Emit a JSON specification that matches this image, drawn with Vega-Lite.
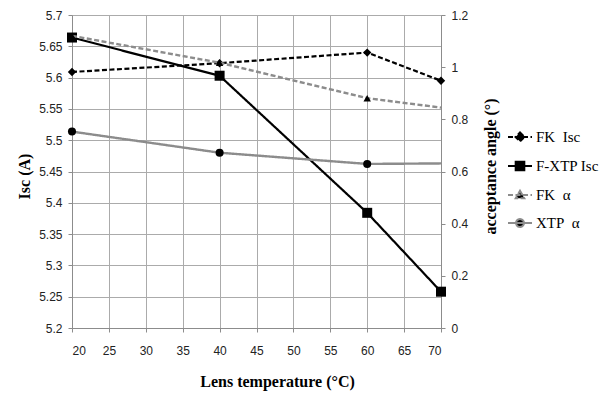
{
  "$schema": "https://vega.github.io/schema/vega-lite/v6.json",
  "autosize": "none",
  "width": 369,
  "height": 313,
  "padding": {"left": 72, "top": 15, "right": 167, "bottom": 70},
  "background": "white",
  "datasets": {
    "isc": [
      {"T": 20, "series": "FK\u00a0\u00a0Isc", "v": 5.609},
      {"T": 40, "series": "FK\u00a0\u00a0Isc", "v": 5.623},
      {"T": 60, "series": "FK\u00a0\u00a0Isc", "v": 5.640},
      {"T": 70, "series": "FK\u00a0\u00a0Isc", "v": 5.595},
      {"T": 20, "series": "F-XTP Isc", "v": 5.664},
      {"T": 40, "series": "F-XTP Isc", "v": 5.603},
      {"T": 60, "series": "F-XTP Isc", "v": 5.384},
      {"T": 70, "series": "F-XTP Isc", "v": 5.258}
    ],
    "angle": [
      {"T": 20, "series": "FK\u00a0\u00a0α", "v": 1.12},
      {"T": 40, "series": "FK\u00a0\u00a0α", "v": 1.017},
      {"T": 60, "series": "FK\u00a0\u00a0α", "v": 0.881},
      {"T": 70, "series": "FK\u00a0\u00a0α", "v": 0.845},
      {"T": 20, "series": "XTP\u00a0\u00a0α", "v": 0.753},
      {"T": 40, "series": "XTP\u00a0\u00a0α", "v": 0.672},
      {"T": 60, "series": "XTP\u00a0\u00a0α", "v": 0.629},
      {"T": 70, "series": "XTP\u00a0\u00a0α", "v": 0.631}
    ]
  },
  "config": {
    "view": {"stroke": null},
    "axis": {
      "labelFont": "Liberation Sans Narrow, Liberation Sans, sans-serif",
      "labelFontSize": 12,
      "labelColor": "#222222",
      "titleFont": "Liberation Serif",
      "titleFontSize": 16,
      "titleFontWeight": "bold",
      "titleColor": "#000000",
      "domainColor": "#8c8c8c",
      "tickColor": "#8c8c8c",
      "gridColor": "#ababab",
      "tickSize": 4,
      "labelPadding": 6
    },
    "legend": {
      "labelFont": "Liberation Serif",
      "labelFontSize": 15,
      "labelColor": "#000000"
    }
  },
  "encoding": {
    "x": {
      "field": "T", "type": "quantitative",
      "scale": {"domain": [20, 70], "nice": false, "zero": false},
      "axis": {
        "values": [20, 25, 30, 35, 40, 45, 50, 55, 60, 65, 70],
        "title": "Lens temperature  (°C)",
        "labelPadding": 13,
        "grid": true,
        "titleX": 205, "titleY": 53, "titleAlign": "center", "titleBaseline": "middle"
      }
    }
  },
  "resolve": {"scale": {"y": "independent"}},
  "layer": [
    {
      "data": {"name": "isc"},
      "encoding": {
        "y": {
          "field": "v", "type": "quantitative",
          "scale": {"domain": [5.2, 5.7], "nice": false, "zero": false},
          "axis": {
            "orient": "left",
            "values": [5.2, 5.25, 5.3, 5.35, 5.4, 5.45, 5.5, 5.55, 5.6, 5.65, 5.7],
            "format": "~g",
            "title": "Isc (A)",
            "grid": true,
            "titleX": -48, "titleY": 161, "titleAlign": "center", "titleBaseline": "middle", "titleAngle": 270
          }
        }
      },
      "layer": [
        {
          "mark": {"type": "line", "strokeWidth": 2.2},
          "encoding": {
            "color": {
              "field": "series", "type": "nominal",
              "scale": {
                "domain": ["FK\u00a0\u00a0Isc", "F-XTP Isc", "FK\u00a0\u00a0α", "XTP\u00a0\u00a0α"],
                "range": ["#000000", "#000000", "#8c8c8c", "#8c8c8c"]
              },
              "legend": {
                "title": null,
                "orient": "none",
                "legendX": 435,
                "legendY": 109,
                "rowPadding": 7,
                "symbolSize": 576,
                "symbolStrokeWidth": 2,
                "labelOffset": 3,
                "encode": {
                  "symbols": {
                    "update": {
                      "shape": {"signal": "['M-1,0H1M0,-0.375L0.375,0L0,0.375L-0.375,0Z','M-1,0H1M-0.36,-0.36H0.36V0.36H-0.36Z','M-1,0H1M0,-0.36L0.36,0.28H-0.36Z','M-1,0H1M-0.33,0A0.33,0.33 0 1,1 0.33,0A0.33,0.33 0 1,1 -0.33,0Z'][datum.index]"},
                      "fill": {"value": "#000000"}
                    }
                  }
                }
              }
            },
            "strokeDash": {
              "field": "series", "type": "nominal",
              "scale": {
                "domain": ["FK\u00a0\u00a0Isc", "F-XTP Isc", "FK\u00a0\u00a0α", "XTP\u00a0\u00a0α"],
                "range": [[5, 2.5], [1, 0], [5, 2.5], [1, 0]]
              }
            }
          }
        },
        {
          "transform": [{"filter": "datum.series === 'FK\u00a0\u00a0Isc'"}],
          "mark": {"type": "point", "filled": true, "opacity": 1, "color": "#000000", "shape": "diamond", "size": 70}
        },
        {
          "transform": [{"filter": "datum.series === 'F-XTP Isc'"}],
          "mark": {"type": "point", "filled": true, "opacity": 1, "color": "#000000", "shape": "square", "size": 100}
        }
      ]
    },
    {
      "data": {"name": "angle"},
      "encoding": {
        "y": {
          "field": "v", "type": "quantitative",
          "scale": {"domain": [0, 1.2], "nice": false},
          "axis": {
            "orient": "right",
            "values": [0, 0.2, 0.4, 0.6, 0.8, 1, 1.2],
            "format": "~g",
            "grid": false,
            "title": "acceptance angle (°)",
            "titleX": 49, "titleY": 151, "titleAlign": "center", "titleBaseline": "middle", "titleAngle": 270
          }
        }
      },
      "layer": [
        {
          "mark": {"type": "line", "strokeWidth": 2.4},
          "encoding": {
            "color": {"field": "series", "type": "nominal"},
            "strokeDash": {"field": "series", "type": "nominal"}
          }
        },
        {
          "transform": [{"filter": "datum.series === 'FK\u00a0\u00a0α' && datum.T < 70"}],
          "mark": {"type": "point", "filled": true, "opacity": 1, "color": "#000000", "shape": "triangle-up", "size": 55}
        },
        {
          "transform": [{"filter": "datum.series === 'XTP\u00a0\u00a0α' && datum.T < 70"}],
          "mark": {"type": "point", "filled": true, "opacity": 1, "color": "#000000", "shape": "circle", "size": 65}
        }
      ]
    }
  ]
}
